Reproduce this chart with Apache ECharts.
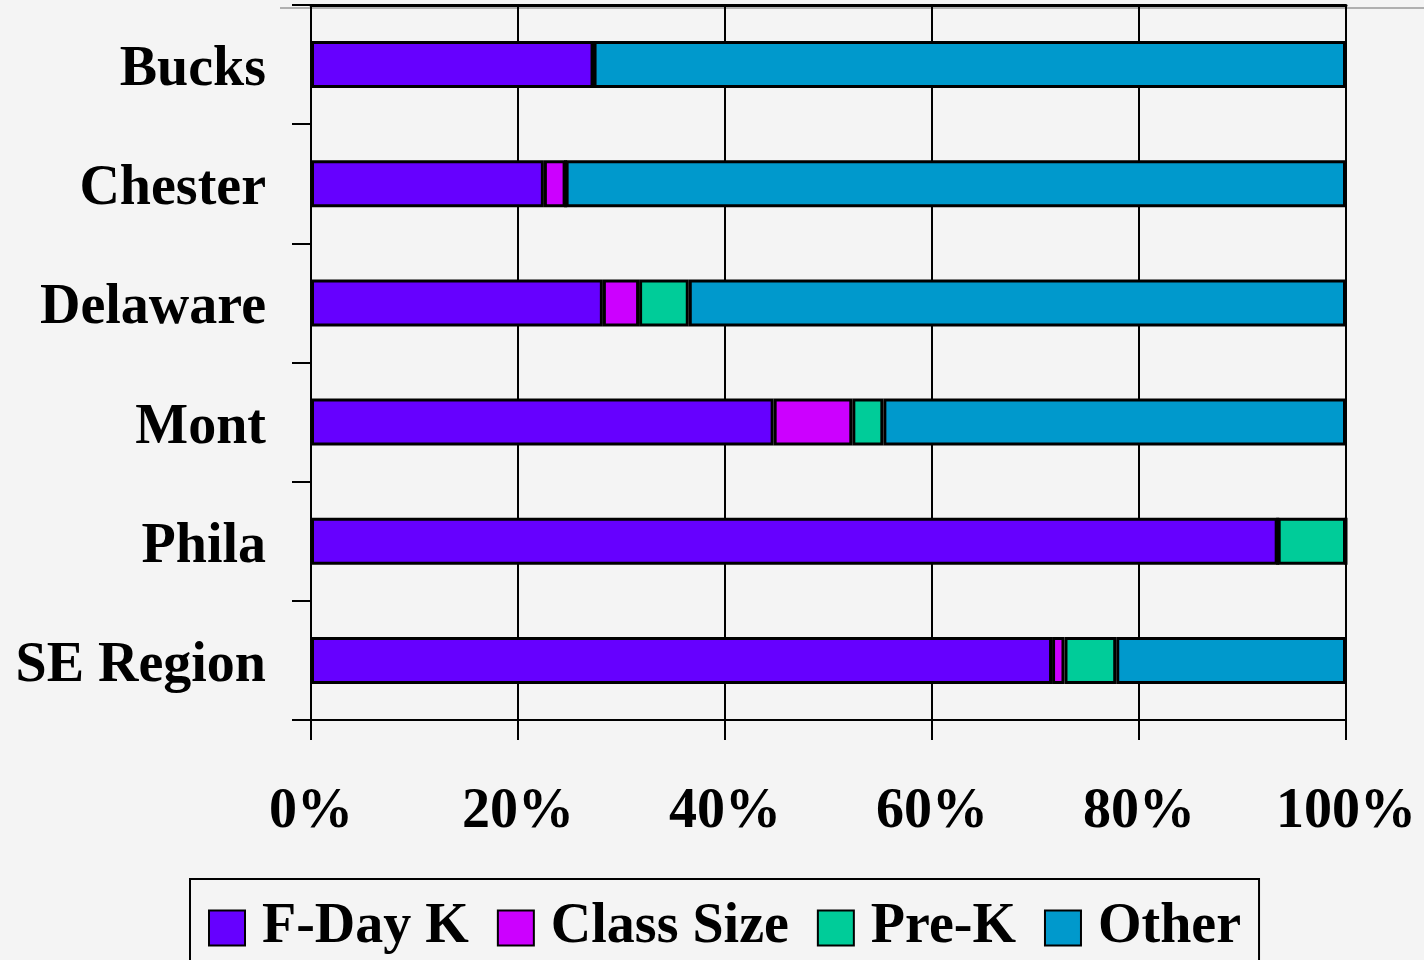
<!DOCTYPE html>
<html lang="en">
<head>
	<meta charset="UTF-8">
	<title>chart</title>
	<style>
		html, body{
			margin: 0;
			padding: 0;
			background: #f4f4f4;
		}
		#main{
			width: 1424px;
			height: 960px;
		}
	</style>
	<script src="https://cdn.jsdelivr.net/npm/echarts@6/dist/echarts.min.js"></script>
</head>
<body>
	<div id="main"></div>

	<script>
		// categories, top to bottom
		var counties = ['Bucks', 'Chester', 'Delaware', 'Mont', 'Phila', 'SE Region'];

		// share of each county (percent)
		var fdayK     = [27.3, 22.5, 28.2, 44.7, 93.4, 71.6];
		var classSize = [0,    2.1,  3.5,  7.6,  0,    1.2];
		var preK      = [0,    0,    4.8,  3.0,  6.6,  5.0];
		var other     = [72.7, 75.4, 63.5, 44.7, 0,    22.2];

		var seriesNames = ['F-Day K', 'Class Size', 'Pre-K', 'Other'];
		var seriesColors = ['#6600ff', '#cc00ff', '#00cc99', '#0099cc'];
		var seriesData = [fdayK, classSize, preK, other];

		var font = '"Liberation Serif", "Times New Roman", serif';

		var myChart = echarts.init(document.getElementById('main'));

		var series = [];
		for (var i = 0; i < seriesNames.length; i++) {
			series.push({
				name: seriesNames[i],
				type: 'bar',
				stack: 'total',
				barWidth: 47,
				itemStyle: {
					color: seriesColors[i],
					borderColor: '#000',
					borderWidth: 3
				},
				data: seriesData[i]
			});
		}

		var option = {
			backgroundColor: '#f4f4f4',
			animation: false,
			grid: {
				left: 311,
				right: 78,
				top: 5,
				bottom: 240
			},
			legend: {
				left: 190,
				top: 879,
				padding: [21, 18, 60, 18],
				borderColor: '#000',
				borderWidth: 2,
				itemWidth: 36,
				itemHeight: 35,
				itemGap: 28,
				icon: 'rect',
				textStyle: {
					fontFamily: font,
					fontWeight: 'bold',
					fontSize: 56,
					color: '#000',
					padding: [0, 0, 0, 12]
				},
				data: seriesNames
			},
			xAxis: [{
				type: 'value',
				min: 0,
				max: 100,
				interval: 20,
				axisLine: { show: true, lineStyle: { color: '#000', width: 2 } },
				axisTick: { show: true, length: 20, lineStyle: { color: '#000', width: 2 } },
				splitLine: { show: true, lineStyle: { color: '#000', width: 2 } },
				axisLabel: {
					formatter: '{value}%',
					margin: 65,
					fontFamily: font,
					fontWeight: 'bold',
					fontSize: 56,
					color: '#000'
				}
			}, {
				// top border of the plot
				type: 'value',
				position: 'top',
				min: 0,
				max: 100,
				axisLine: { show: true, lineStyle: { color: '#000', width: 3 } },
				axisTick: { show: false },
				axisLabel: { show: false },
				splitLine: { show: false }
			}],
			yAxis: {
				type: 'category',
				inverse: true,
				data: counties,
				axisLine: { show: true, lineStyle: { color: '#000', width: 2 } },
				axisTick: { show: true, length: 19, lineStyle: { color: '#000', width: 2 } },
				axisLabel: {
					margin: 45,
					formatter: '{c|{value}}',
					rich: {
						c: {
							padding: [12, 0, 0, 0],
							fontFamily: font,
							fontWeight: 'bold',
							fontSize: 56,
							color: '#000'
						}
					}
				}
			},
			graphic: [{
				type: 'line',
				shape: { x1: 280, y1: 8, x2: 1424, y2: 8 },
				style: { stroke: '#b0b0b0', lineWidth: 2 },
				z: -1
			}],
			series: series
		};

		myChart.setOption(option);
	</script>
</body>
</html>
